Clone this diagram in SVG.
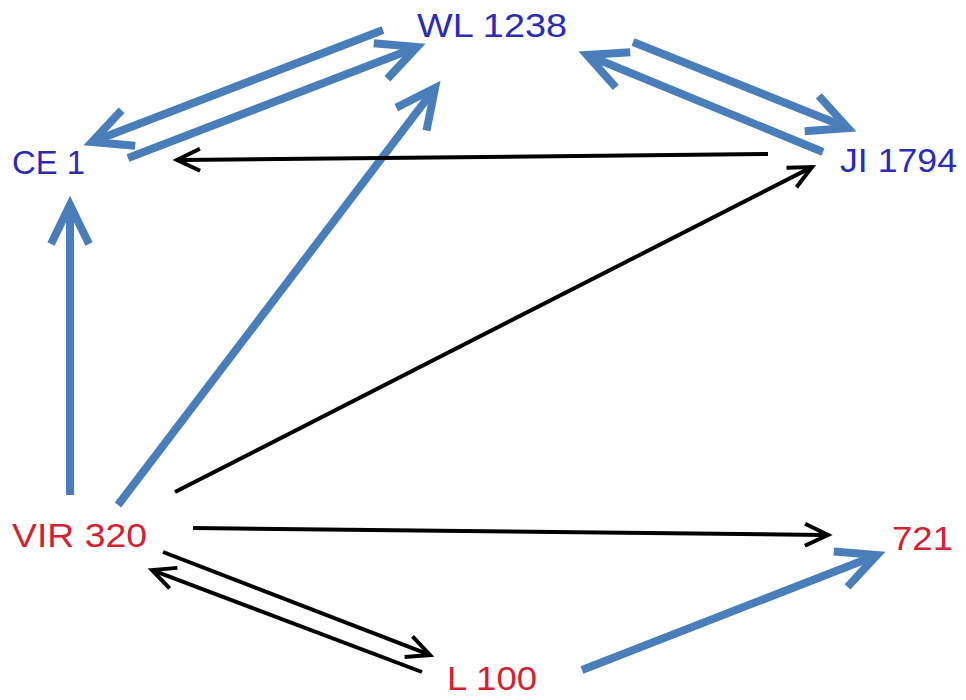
<svg xmlns="http://www.w3.org/2000/svg" width="966" height="700" viewBox="0 0 966 700">
  <style>
    .lbl { font-family: "Liberation Sans", Arial, sans-serif; font-size: 34px; }
    .blue-t { fill: #2b2bb8; }
    .red-t { fill: #d42030; }
    .thick { stroke: #4a7ebb; stroke-width: 8; fill: none; marker-end: url(#headBlue); }
    .thin { stroke: #000; stroke-width: 4; fill: none; marker-end: url(#headBlack); }
  </style>
  <defs>
    <marker id="headBlue" markerUnits="userSpaceOnUse" orient="auto" refX="0" refY="0" markerWidth="60" markerHeight="60" overflow="visible">
      <path d="M-33,-19 L6,0 L-33,19" fill="none" stroke="#4a7ebb" stroke-width="8" stroke-linejoin="miter"/>
    </marker>
    <marker id="headBlack" markerUnits="userSpaceOnUse" orient="auto" refX="0" refY="0" markerWidth="40" markerHeight="40" overflow="visible">
      <path d="M-20,-11 L3,0 L-20,11" fill="none" stroke="#000" stroke-width="4" stroke-linejoin="miter"/>
    </marker>
  </defs>
  <rect width="966" height="700" fill="#fff"/>

  <g id="connectors">
    <!-- wide blue links -->
    <line class="thick" x1="383" y1="30" x2="97.6" y2="139.8"/>
    <line class="thick" x1="128" y1="158" x2="411.4" y2="49.2"/>
    <line class="thick" x1="118" y1="505" x2="431.4" y2="92.8"/>
    <line class="thick" x1="70" y1="495" x2="70" y2="211"/>
    <line class="thick" x1="633" y1="42" x2="842.4" y2="125.8"/>
    <line class="thick" x1="823" y1="152" x2="592.5" y2="57.3"/>
    <line class="thick" x1="582" y1="670" x2="871.4" y2="557.2"/>
    <!-- narrow black links -->
    <line class="thin" x1="768" y1="154" x2="180" y2="160"/>
    <line class="thin" x1="175" y1="492" x2="809.3" y2="168.4"/>
    <line class="thin" x1="193" y1="528" x2="825" y2="535"/>
    <line class="thin" x1="163" y1="552" x2="427.2" y2="653.9"/>
    <line class="thin" x1="422" y1="672" x2="154.8" y2="571.1"/>
  </g>

  <g id="node-wl1238"><text class="lbl blue-t" x="417" y="37" textLength="150" lengthAdjust="spacingAndGlyphs">WL 1238</text></g>
  <g id="node-ce1"><text class="lbl blue-t" x="12" y="174" textLength="73" lengthAdjust="spacingAndGlyphs">CE 1</text></g>
  <g id="node-ji1794"><text class="lbl blue-t" x="840" y="172" textLength="117" lengthAdjust="spacingAndGlyphs">JI 1794</text></g>
  <g id="node-vir320"><text class="lbl red-t" x="12" y="547" textLength="135" lengthAdjust="spacingAndGlyphs">VIR 320</text></g>
  <g id="node-721"><text class="lbl red-t" x="892" y="550" textLength="61" lengthAdjust="spacingAndGlyphs">721</text></g>
  <g id="node-l100"><text class="lbl red-t" x="447" y="690" textLength="90" lengthAdjust="spacingAndGlyphs">L 100</text></g>
</svg>
